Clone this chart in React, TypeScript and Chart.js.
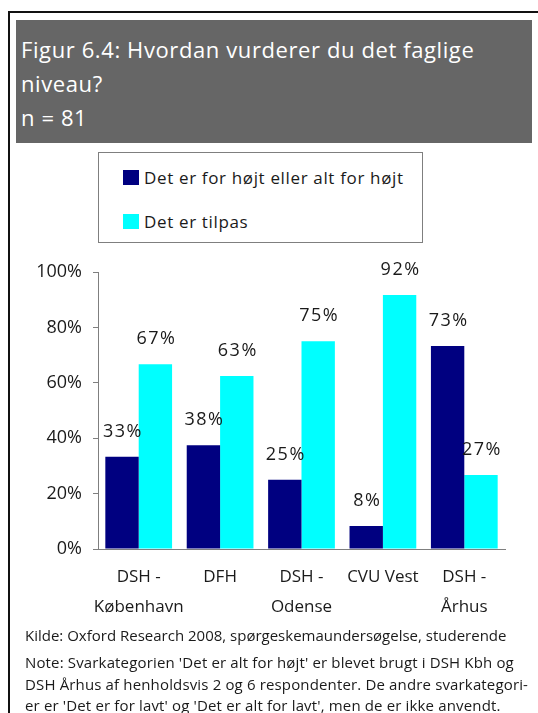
import React, { useEffect, useRef } from "react";
import { Chart, registerables } from "chart.js";

Chart.register(...registerables);

const categories: string[][] = [
  ["DSH -", "København"],
  ["DFH"],
  ["DSH -", "Odense"],
  ["CVU Vest"],
  ["DSH -", "Århus"],
];
const seriesNames = ["Det er for højt eller alt for højt", "Det er tilpas"];
const seriesColors = ["#000080", "#00FFFF"];
const tooHigh = [33.3, 37.5, 25, 8.3, 73.3];
const justRight = [66.7, 62.5, 75, 91.7, 26.7];
const yTicks = [0, 20, 40, 60, 80, 100];

const titleLines = ["Figur 6.4: Hvordan vurderer du det faglige", "niveau?", "n = 81"];
const sourceText = "Kilde: Oxford Research 2008, spørgeskemaundersøgelse, studerende";
const noteLines = [
  "Note: Svarkategorien 'Det er alt for højt' er blevet brugt i DSH Kbh og",
  "DSH Århus af henholdsvis 2 og 6 respondenter. De andre svarkategori-",
  "er er 'Det er for lavt' og 'Det er alt for lavt', men de er ikke anvendt.",
];

const FONT = "'Open Sans', Lato, sans-serif";

const labelPlugin = {
  id: "barLabels",
  afterDatasetsDraw(chart: any) {
    const ctx = chart.ctx;
    ctx.save();
    ctx.font = `18px ${FONT}`;
    try {
      ctx.letterSpacing = "1.5px";
    } catch (e) {}
    ctx.fillStyle = "#1a1a1a";
    ctx.textAlign = "center";
    ctx.textBaseline = "middle";
    chart.data.datasets.forEach((ds: any, di: number) => {
      const meta = chart.getDatasetMeta(di);
      meta.data.forEach((el: any, i: number) => {
        const v = ds.data[i];
        ctx.fillText(Math.round(v) + "%", el.x + 1, el.y - 25);
      });
    });
    ctx.restore();
  },
};

export default function App() {
  const ref = useRef<HTMLCanvasElement | null>(null);
  useEffect(() => {
    if (!ref.current) return;
    const chart = new Chart(ref.current, {
      type: "bar",
      data: {
        labels: categories,
        datasets: [
          { label: seriesNames[0], data: tooHigh, backgroundColor: seriesColors[0] },
          { label: seriesNames[1], data: justRight, backgroundColor: seriesColors[1] },
        ],
      },
      options: {
        responsive: false,
        animation: false,
        devicePixelRatio: 1,
        layout: { padding: { left: 0, top: 22, right: 25, bottom: 0 } },
        datasets: { bar: { categoryPercentage: 0.82, barPercentage: 1 } },
        plugins: { legend: { display: false }, tooltip: { enabled: false } },
        scales: {
          x: {
            grid: { display: false, drawTicks: false },
            border: { display: true, color: "#7f7f7f", width: 1 },
            ticks: {
              font: { family: FONT, size: 17, lineHeight: 1.72 },
              color: "#1a1a1a",
              padding: 14,
              maxRotation: 0,
              autoSkip: false,
            },
            afterFit: (s: any) => {
              s.height = 81;
            },
          },
          y: {
            min: 0,
            max: 100,
            afterBuildTicks: (s: any) => {
              s.ticks = yTicks.map((v) => ({ value: v }));
            },
            grid: { drawOnChartArea: false, drawTicks: true, tickLength: 5, color: "#7f7f7f" },
            border: { display: true, color: "#7f7f7f", width: 1 },
            ticks: {
              font: { family: FONT, size: 18 },
              color: "#1a1a1a",
              padding: 11,
              callback: (v: any) => v + "%",
            },
            afterFit: (s: any) => {
              s.width = 88;
            },
          },
        },
      },
      plugins: [labelPlugin],
    });
    return () => chart.destroy();
  }, []);

  return (
    <div
      style={{
        position: "fixed",
        left: 0,
        top: 0,
        width: 538,
        height: 713,
        background: "#fff",
        fontFamily: FONT,
        overflow: "hidden",
      }}
    >
      <div style={{ position: "absolute", left: 8, top: 11, width: 540, height: 2, background: "#111" }} />
      <div style={{ position: "absolute", left: 8, top: 11, width: 2, height: 710, background: "#111" }} />
      <div
        style={{
          position: "absolute",
          left: 16,
          top: 20,
          width: 516,
          height: 123,
          background: "#666666",
        }}
      >
        {titleLines.map((t, i) => (
          <div
            key={i}
            style={{
              position: "absolute",
              left: 5,
              top: 12 + i * 34,
              lineHeight: "34px",
              fontSize: 22,
              letterSpacing: "0.6px",
              color: "#fff",
              whiteSpace: "nowrap",
            }}
          >
            {t}
          </div>
        ))}
      </div>
      <div
        style={{
          position: "absolute",
          left: 98,
          top: 152,
          width: 323,
          height: 89,
          border: "1px solid #7f7f7f",
        }}
      >
        {seriesNames.map((n, i) => (
          <div key={i} style={{ position: "absolute", left: 24, top: 10 + i * 44, height: 28, display: "flex", alignItems: "center" }}>
            <div style={{ width: 16, height: 15, background: seriesColors[i], marginRight: 5 }} />
            <span style={{ fontSize: 17, letterSpacing: "0.65px", color: "#1a1a1a", whiteSpace: "nowrap" }}>{n}</span>
          </div>
        ))}
      </div>
      <canvas
        ref={ref}
        width={520}
        height={380}
        style={{ position: "absolute", left: 10, top: 250, width: 520, height: 380 }}
      />
      <div
        style={{
          position: "absolute",
          left: 25,
          top: 624,
          fontSize: 15,
          lineHeight: "22px",
          color: "#1a1a1a",
          whiteSpace: "nowrap",
        }}
      >
        {sourceText}
      </div>
      {noteLines.map((t, i) => (
        <div
          key={i}
          style={{
            position: "absolute",
            left: 25,
            top: 651 + i * 21.5,
            fontSize: 15,
            letterSpacing: "0.15px",
            lineHeight: "22px",
            color: "#1a1a1a",
            whiteSpace: "nowrap",
          }}
        >
          {t}
        </div>
      ))}
    </div>
  );
}
